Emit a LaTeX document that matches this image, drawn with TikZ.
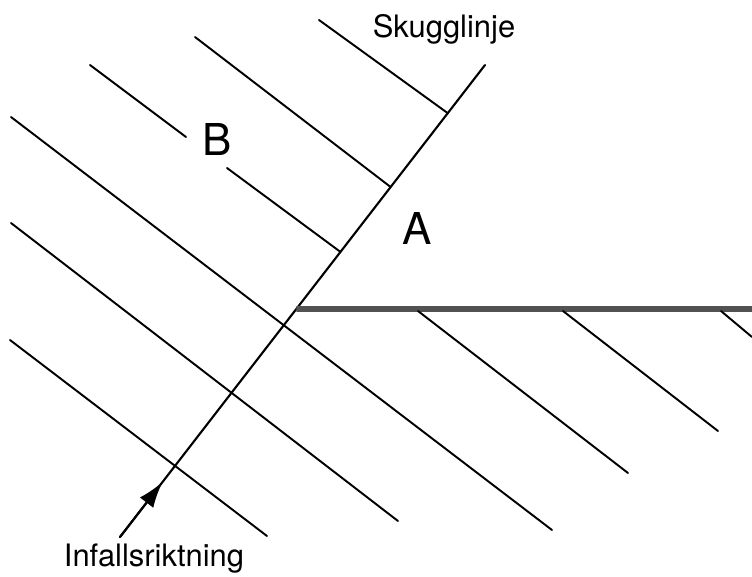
\documentclass[tikz,border=0pt]{standalone}
\usepackage{fontspec}
\setsansfont{TeX Gyre Heros}
\usepackage{tikz}
\usetikzlibrary{arrows.meta,calc}
\tikzset{
  figure/.style={x=0.02cm,y=-0.02cm,font=\sffamily,line cap=round},
  ray/.style={line width=1.1pt,draw=black},
  shadowline/.style={line width=1.2pt,draw=black},
  surface/.style={line width=3.2pt,draw=black!68,line cap=butt},
  captiontext/.style={font=\sffamily\fontsize{17.6}{20}\selectfont,inner sep=0pt},
  areatext/.style={font=\sffamily\fontsize{25}{28}\selectfont,inner sep=0pt},
}

\begin{document}
\begin{tikzpicture}[figure]
  \useasboundingbox (0,0) rectangle (752,576);

  % skugglinjen
  \coordinate (tail) at (120,537);
  \coordinate (top)  at (485,65);
  \coordinate (head) at ($(tail)!0.1165!(top)$);
  \draw[shadowline] (tail) -- (top);
  \draw[shadowline,-{Latex[length=0.52cm,width=0.34cm]}] (tail) -- (head);

  % ytan
  \coordinate (corner) at ($(tail)!0.483!(top)$);
  \coordinate (rim) at (752,309);
  \draw[surface] (corner) -- (rim);

  % strålar ovanför
  \coordinate (r1a) at (319,20);  \coordinate (r1b) at ($(tail)!0.898!(top)$);
  \coordinate (r2a) at (195,37);  \coordinate (r2b) at ($(tail)!0.7415!(top)$);
  \coordinate (r3a) at (90,65);   \coordinate (r3b) at ($(tail)!0.604!(top)$);
  \coordinate (r3g) at (186,137); \coordinate (r3h) at (227,168);
  \draw[ray] (r1a) -- (r1b);
  \draw[ray] (r2a) -- (r2b);
  \draw[ray] (r3a) -- (r3g);
  \draw[ray] (r3h) -- (r3b);

  % strålar genom skugglinjen
  \coordinate (r4a) at (11,117);  \coordinate (r4b) at (552,530);
  \coordinate (r5a) at (11,223);  \coordinate (r5b) at (398,521);
  \coordinate (r6a) at (10,340);  \coordinate (r6b) at (267,536);
  \draw[ray] (r4a) -- (r4b);
  \draw[ray] (r5a) -- (r5b);
  \draw[ray] (r6a) -- (r6b);

  % strålar under ytan
  \coordinate (r7a) at (418,311); \coordinate (r7b) at (628,473);
  \coordinate (r8a) at (563,311); \coordinate (r8b) at (718,431);
  \coordinate (r9a) at (721,311); \coordinate (r9b) at (752,337);
  \draw[ray] (r7a) -- (r7b);
  \draw[ray] (r8a) -- (r8b);
  \draw[ray] (r9a) -- (r9b);

  \node[captiontext,anchor=base] (skugg) at (444,37) {Skugglinje};
  \node[captiontext,anchor=base] (infall) at (154,566) {Infallsriktning};
  \node[areatext] (B) at (217.5,139) {B};
  \node[areatext] (A) at (417,228) {A};
\end{tikzpicture}
\end{document}
